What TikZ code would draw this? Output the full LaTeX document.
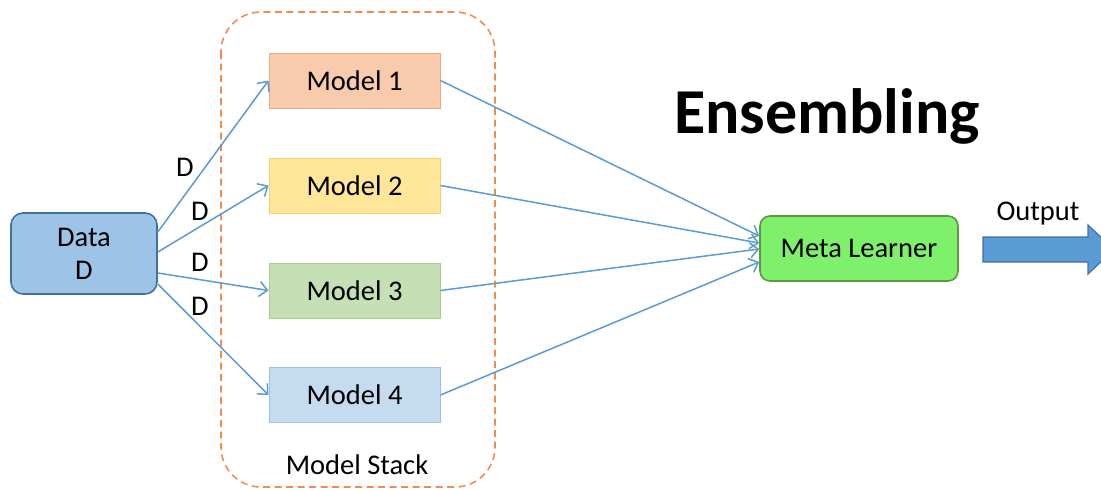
\documentclass[tikz,border=0pt]{standalone}
\usepackage{fontspec}
\setmainfont{Carlito}
\usetikzlibrary{arrows.meta}
\definecolor{databg}{HTML}{9DC3E6}
\definecolor{dataln}{HTML}{41719C}
\definecolor{m1bg}{HTML}{F8CBAD}
\definecolor{m1ln}{HTML}{E8A882}
\definecolor{m2bg}{HTML}{FFE699}
\definecolor{m2ln}{HTML}{F2D36A}
\definecolor{m3bg}{HTML}{C5E0B4}
\definecolor{m3ln}{HTML}{A9CC8E}
\definecolor{m4bg}{HTML}{C5DCF0}
\definecolor{m4ln}{HTML}{9DBFE0}
\definecolor{metabg}{HTML}{7FF06C}
\definecolor{metaln}{HTML}{5B9B3C}
\definecolor{arr}{HTML}{5B9BD5}
\definecolor{stackln}{HTML}{F08C4E}
\tikzset{
  txt/.style={font=\fontsize{28.5}{33}\selectfont, text=black},
  modelbox/.style={txt, draw, line width=1pt, minimum width=171pt, minimum height=55pt, inner sep=0pt},
  conn/.style={draw=arr, line width=1.5pt, -{Straight Barb[length=8pt,width=15pt,line width=1.5pt]}},
}
\begin{document}
\begin{tikzpicture}[x=1pt,y=-1pt]
\useasboundingbox (0,0) rectangle (1101,490);
% model stack
\draw[stackln, line width=1.6pt, dash pattern=on 7pt off 4.5pt, rounded corners=40pt] (221,12) rectangle (495,487);
\node[txt] (stack) at (357,465) {Model Stack};
% data
\node[txt, draw=dataln, fill=databg, line width=1.6pt, rounded corners=12pt, minimum width=146pt, minimum height=81pt, align=center, inner sep=0pt] (data) at (84,253.5) {Data\\D};
% models
\node[modelbox, draw=m1ln, fill=m1bg] (m1) at (354.5,80.5) {Model 1};
\node[modelbox, draw=m2ln, fill=m2bg] (m2) at (354.5,185.5) {Model 2};
\node[modelbox, draw=m3ln, fill=m3bg] (m3) at (354.5,290.5) {Model 3};
\node[modelbox, draw=m4ln, fill=m4bg] (m4) at (354.5,395) {Model 4};
% meta learner
\node[txt, draw=metaln, fill=metabg, line width=1.6pt, rounded corners=10pt, minimum width=198pt, minimum height=65pt, inner sep=0pt] (meta) at (859,248.5) {Meta Learner};
% title
\node[font=\fontsize{64}{70}\selectfont\bfseries] (title) at (827,116) {Ensembling};
% data -> models
\draw[conn] ([yshift=21.5pt]data.east) -- (m1.west);
\draw[conn] ([yshift=1.5pt]data.east) -- (m2.west);
\draw[conn] ([yshift=-19.5pt]data.east) -- (m3.west);
\draw[conn] ([yshift=-30.5pt]data.east) -- (m4.west);
\node[txt] (d1) at (185,167) {D};
\node[txt] (d2) at (200,211) {D};
\node[txt] (d3) at (200,262) {D};
\node[txt] (d4) at (200,306) {D};
% models -> meta
\draw[conn] (m1.east) -- ([yshift=12.5pt]meta.west);
\draw[conn] (m2.east) -- ([yshift=5.5pt]meta.west);
\draw[conn] (m3.east) -- ([yshift=-0.5pt]meta.west);
\draw[conn] (m4.east) -- ([yshift=-13.5pt]meta.west);
% output arrow
\begin{scope}
\clip (0,0) rectangle (1101,490);
\coordinate (outtip) at (1114,249.5);
\draw[draw=dataln, fill=arr, line width=1.2pt] (983,237) -- (1088,237) -- (1088,225) -- (outtip) -- (1088,274) -- (1088,262) -- (983,262) -- cycle;
\end{scope}
\node[txt] (outlbl) at (1038,214) {Output};
\end{tikzpicture}
\end{document}
